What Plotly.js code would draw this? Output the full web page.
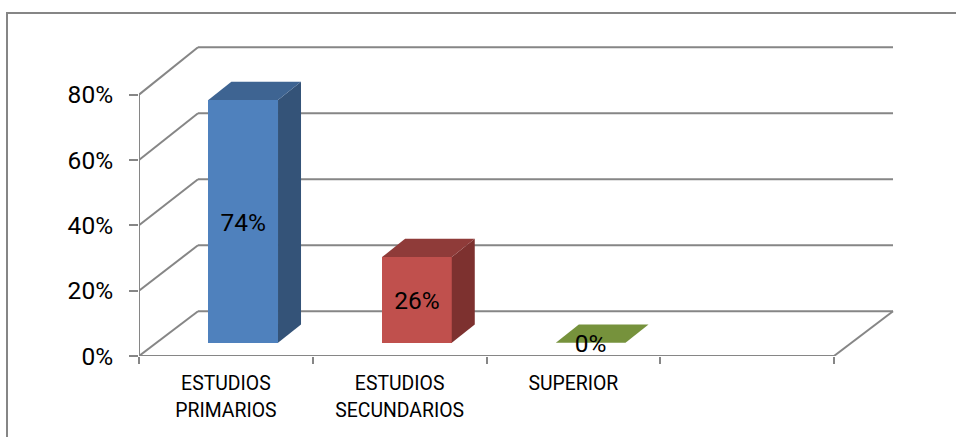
<!DOCTYPE html>
<html>
<head>
<meta charset="utf-8">
<script src="https://cdn.plot.ly/plotly-3.0.1.min.js"></script>
<style>html,body{margin:0;padding:0;background:#fff}</style>
</head>
<body>
<div id="chart" style="width:956px;height:437px"></div>
<script>
// Data
var categories = [["ESTUDIOS","PRIMARIOS"],["ESTUDIOS","SECUNDARIOS"],["SUPERIOR"]];
var values = [74.3, 26.2, 0];
var valueLabels = ["74%","26%","0%"];
var yTicks = [0,20,40,60,80];
var yTickLabels = ["0%","20%","40%","60%","80%"];
var frontColors = ["#4F81BD","#C0504D","#9BBB59"];
var sideColors = ["#345378","#7D312F","#65792F"];
var topColors = ["#3E6492","#8F3B39","#76923C"];

// Oblique depth in axis units (x: category slots, y: percent)
var wallDX = 0.3396, wallDY = 13.7, wallScale = 1.01;
var barShiftX = 0.0996, barLiftY = 4.07;
var barWidth = 0.401, barDX = 0.1324, barDY = 5.6;
var labelNudgeY = -1.0;
var grey = "#868686";
var xLeft = -0.5, xRight = 3.5;
var fontFamily = "Roboto, Liberation Sans, Arial, sans-serif";

var shapes = [];
function seg(x0,y0,x1,y1){
  shapes.push({type:"line",layer:"below",xref:"x",yref:"y",x0:x0,y0:y0,x1:x1,y1:y1,
    line:{color:grey,width:2}});
}
yTicks.forEach(function(t){
  var back = t*wallScale+wallDY;
  seg(xLeft,t,xLeft+wallDX,back);
  seg(xLeft+wallDX,back,xRight+wallDX,back);
});
seg(xLeft,0,xLeft,80);
seg(xLeft,0,xRight,0);
seg(xRight,0,xRight+wallDX,wallDY);

// Chart frame, outer edge (paper fractions of plot area)
var L=139,W=757,T=46,H=310.3;
shapes.push({type:"path",xref:"paper",yref:"paper",layer:"below",
  path:"M "+((7-L)/W)+" "+(1-(445-T)/H)+" L "+((7-L)/W)+" "+(1-(13-T)/H)+" L "+((960-L)/W)+" "+(1-(13-T)/H),
  line:{color:grey,width:2}});

var xs = values.map(function(v,i){return i+barShiftX;});
var traces = [{
  type:"bar", x:xs, y:values, base:values.map(function(){return barLiftY;}),
  width:values.map(function(){return barWidth;}),
  marker:{color:frontColors,line:{width:0}}, hoverinfo:"skip", showlegend:false
}];
values.forEach(function(v,i){
  var xl=xs[i]-barWidth/2, xr=xs[i]+barWidth/2, b=barLiftY, t=barLiftY+v;
  traces.push({type:"scatter",mode:"lines",fill:"toself",fillcolor:sideColors[i],line:{width:0},
    x:[xr,xr+barDX,xr+barDX,xr,xr],y:[b,b+barDY,t+barDY,t,b],hoverinfo:"skip",showlegend:false});
  traces.push({type:"scatter",mode:"lines",fill:"toself",fillcolor:topColors[i],line:{width:0},
    x:[xl,xr,xr+barDX,xl+barDX,xl],y:[t,t,t+barDY,t+barDY,t],hoverinfo:"skip",showlegend:false});
});
traces.push({type:"scatter",mode:"text",x:xs,
  y:values.map(function(v){return barLiftY+v/2+labelNudgeY;}),
  text:valueLabels,textposition:"middle center",
  textfont:{family:fontFamily,size:24.5,color:"#000"},
  hoverinfo:"skip",showlegend:false,cliponaxis:false});

var small = function(s){return "<span style='font-size:19.4px'>"+s+"</span>";};
var layout = {
  width:956,height:437,
  margin:{l:L,r:956-L-W,t:T,b:437-T-H,pad:0},
  paper_bgcolor:"#fff",plot_bgcolor:"rgba(0,0,0,0)",
  showlegend:false,bargap:0,barmode:"overlay",
  font:{family:fontFamily,color:"#000"},
  shapes:shapes,
  xaxis:{type:"linear",range:[xLeft,xLeft+W/173.75],
    tickmode:"array",tickvals:[0,1,2],
    ticktext:categories.map(function(c){return c.map(small).join("<br>");}),
    tickfont:{family:fontFamily,size:20.8,color:"#000"},ticks:"",ticklabelstandoff:12,
    minor:{tickmode:"array",tickvals:[-0.5,0.5,1.5,2.5,3.5],ticks:"outside",ticklen:7,tickwidth:2,tickcolor:grey,showgrid:false},
    showgrid:false,zeroline:false,showline:false},
  yaxis:{range:[0,H/3.27],tickmode:"array",tickvals:yTicks,ticktext:yTickLabels,
    tickfont:{family:fontFamily,size:24.5,color:"#000"},ticks:"outside",ticklen:9,tickwidth:2,tickcolor:grey,
    ticklabelstandoff:11,showgrid:false,zeroline:false,showline:false}
};
Plotly.newPlot("chart",traces,layout,{displayModeBar:false,staticPlot:true});
</script>
</body>
</html>
